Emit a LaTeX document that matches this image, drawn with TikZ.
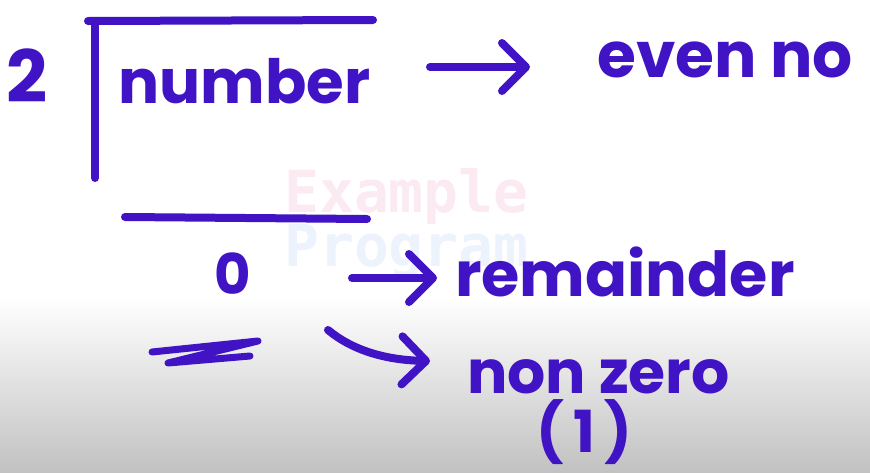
\documentclass[tikz,border=0pt]{standalone}
\usepackage{fontspec}
\setmainfont{Poppins}
\newfontfamily\wmfont{DejaVu Sans Mono}
\usetikzlibrary{arrows.meta}
\definecolor{ink}{RGB}{64,20,196}
\definecolor{wmpink}{RGB}{252,234,243}
\definecolor{wmblue}{RGB}{236,243,253}
\tikzset{
    pen/.style={draw=ink, line width=8pt, line cap=round, line join=round},
    penarrow/.style={pen, -{Straight Barb[length=24pt, width=48pt, round]}},
    word/.style={text=ink, inner sep=0pt, anchor=base west},
    wmtext/.style={inner sep=0pt, anchor=base west, font=\wmfont\bfseries\fontsize{58}{58}\selectfont}
}

\begin{document}
\begin{tikzpicture}[x=1pt, y=-1pt]
    % page, grey lower part
    \useasboundingbox (0,0) rectangle (870,472);
    \fill[white] (0,0) rectangle (870,472);
    \shade[top color=white, bottom color=white!76!black] (0,298) rectangle (870,472);

    % watermark
    \node[wmtext, text=wmpink] (wmex) at (284,212) {Example};
    \node[wmtext, text=wmblue] (wmprog) at (284,266) {Program};

    % division bracket
    \node[word, font=\bfseries\fontsize{72}{72}\selectfont] (two) at (6,102) {2};
    \draw[pen] (88,21) -- (373,20);
    \draw[pen] (95,21) -- (95,178);
    \draw[pen] (125,217) -- (367,219);
    \node[word, font=\bfseries\fontsize{61}{61}\selectfont] (number) at (118,103) {number};

    % results
    \node[word, font=\bfseries\fontsize{63}{63}\selectfont] (even) at (597,77) {even no};
    \node[word, font=\bfseries\fontsize{56}{56}\selectfont] (zero) at (214,294) {0};
    \node[word, font=\bfseries\fontsize{62}{62}\selectfont] (remainder) at (455,296) {remainder};
    \node[word, font=\bfseries\fontsize{60}{60}\selectfont] (nonzero) at (467,393) {non zero};
    \node[word, font=\bfseries\fontsize{58}{58}\selectfont] (one) at (536,452) {(\,1\,)};

    % scribble under the 0
    \draw[pen, line width=7pt] (152,352) -- (258,341) -- (168,363) -- (250,356);

    % arrows
    \coordinate (numtail) at (430,67);
    \coordinate (zerotail) at (352,278);
    \coordinate (scribtail) at (328,330);
    \draw[penarrow] (numtail) -- ([shift={(-67,-10)}]even.base west);
    \draw[penarrow] (zerotail) -- ([shift={(-18,-18)}]remainder.base west);
    \draw[penarrow] (scribtail) .. controls (352,350) and (385,360) .. ([shift={(-37,-32)}]nonzero.base west);
\end{tikzpicture}
\end{document}
